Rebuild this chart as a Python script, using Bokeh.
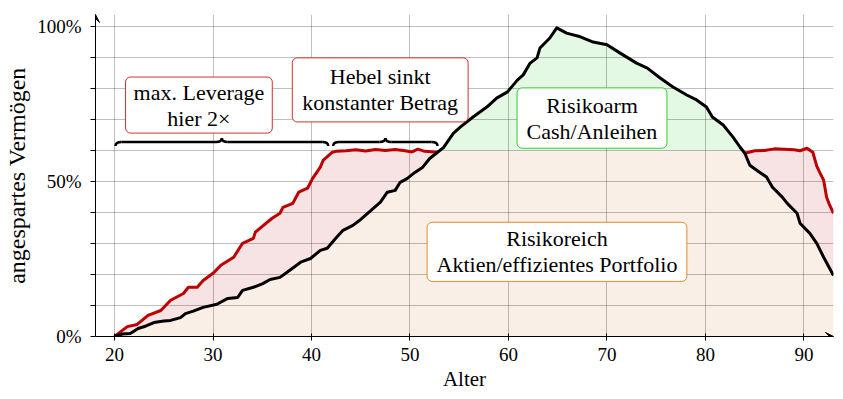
import numpy as np
from bokeh.plotting import figure
from bokeh.models import Range1d, FixedTicker, BoxAnnotation, Label, Arrow, VeeHead
from bokeh.embed import file_html
from bokeh.resources import INLINE

# ---- data ----
black_age = [20.0, 20.8, 21.6, 22.4, 23.2, 24.0, 25.0, 25.7, 26.7, 27.2, 28.0, 29.0, 30.4, 31.5,
             32.5, 33.0, 34.1, 35.0, 35.8, 36.8, 37.8, 38.9, 39.9, 40.9, 41.6, 42.4, 43.2, 44.2,
             45.0, 45.7, 47.0, 47.7, 48.5, 49.0, 49.7, 50.5, 51.3, 52.0, 52.8, 53.4, 54.4, 55.1,
             56.4, 57.8, 58.8, 59.9, 60.9, 61.5, 62.2, 62.9, 63.2, 63.7, 64.2, 64.9, 65.9, 67.3,
             68.6, 70.0, 71.3, 73.0, 74.1, 75.4, 76.7, 78.1, 79.1, 80.1, 80.7, 81.8, 82.8, 83.5,
             84.0, 84.5, 85.2, 86.2, 86.8, 87.8, 88.3, 89.3, 89.6, 90.6, 91.3, 92.0, 93.0]
black_val = [0.0, 0.8, 1.0, 2.6, 3.4, 4.5, 5.0, 5.2, 6.1, 7.4, 8.2, 9.4, 10.4, 12.3,
             12.6, 14.9, 15.9, 17.0, 18.4, 19.1, 21.4, 24.0, 25.2, 27.8, 28.5, 31.5, 34.3, 35.9,
             37.8, 39.8, 43.4, 46.6, 47.2, 49.8, 51.0, 53.0, 54.7, 57.5, 59.5, 61.0, 65.6, 67.6,
             70.9, 74.1, 77.0, 79.0, 82.8, 84.5, 88.3, 90.0, 93.2, 94.8, 96.4, 99.7, 98.0, 96.8,
             95.1, 94.2, 91.6, 88.3, 86.7, 83.5, 80.6, 78.0, 76.4, 74.1, 70.9, 68.3, 64.4, 61.2,
             59.2, 55.3, 53.7, 51.5, 48.2, 45.0, 43.0, 39.8, 36.6, 33.3, 30.1, 25.6, 19.7]

red1_age = [20.0, 20.6, 21.3, 22.3, 23.4, 24.7, 25.7, 27.0, 27.5, 28.4, 29.0, 30.0, 30.8, 32.1,
            33.0, 34.1, 34.3, 36.0, 36.8, 37.1, 38.1, 38.7, 39.6, 40.1, 40.9, 41.2, 42.1, 42.5,
            43.5, 44.5, 45.5, 46.5, 47.5, 48.5, 49.5, 50.2, 50.8, 51.5, 52.8]
red1_val = [0.0, 1.5, 3.2, 3.9, 6.8, 8.4, 11.7, 13.9, 15.9, 15.9, 18.1, 20.4, 23.0, 25.6,
            30.1, 31.7, 33.7, 38.2, 39.8, 41.7, 43.0, 46.6, 47.9, 51.0, 54.7, 57.0, 59.5, 59.8,
            60.0, 60.3, 59.9, 60.4, 60.1, 60.4, 60.0, 59.6, 60.5, 59.8, 59.5]
red2_age = [84.0, 85.0, 86.0, 87.0, 88.0, 89.0, 89.6, 90.3, 90.9, 91.3, 91.6, 92.0, 92.3, 92.6, 93.0]
red2_val = [59.2, 60.0, 60.1, 60.6, 60.5, 60.3, 60.0, 60.8, 59.5, 55.0, 53.0, 50.5, 45.0, 42.5, 39.8]

risk_level = 60.0
x_ticks = [20, 30, 40, 50, 60, 70, 80, 90]
y_ticks = [0, 10, 20, 30, 40, 50, 60, 70, 80, 90, 100]
y_labels = {0: "0%", 50: "50%", 100: "100%"}

brace_start = [20.1, 42.2]
brace_end = [41.7, 52.8]

FONT = "Liberation Serif"
X0, X1, Y0, Y1 = 18.07, 93.0, 0.0, 104.0
FW, FH = 738, 322
PXY = FH / (Y1 - Y0)   # pixels per percent


def insert_crossings(x, y, lvl):
    ox, oy = [x[0]], [y[0]]
    for i in range(1, len(x)):
        if (y[i - 1] - lvl) * (y[i] - lvl) < 0:
            t = (lvl - y[i - 1]) / (y[i] - y[i - 1])
            ox.append(x[i - 1] + t * (x[i] - x[i - 1]))
            oy.append(lvl)
        ox.append(x[i])
        oy.append(y[i])
    return np.array(ox), np.array(oy)


p = figure(frame_width=FW, frame_height=FH, x_range=Range1d(X0, X1), y_range=Range1d(Y0, Y1),
           output_backend="svg", toolbar_location=None,
           min_border_left=95, min_border_right=10, min_border_top=14, min_border_bottom=63)
p.outline_line_color = None
p.background_fill_color = "white"
p.border_fill_color = "white"

# fills
bx, by = insert_crossings(black_age, black_val, risk_level)
fills = [p.varea(x=bx, y1=0, y2=np.minimum(by, risk_level), fill_color="#f9efe6"),
         p.varea(x=bx, y1=risk_level, y2=np.maximum(by, risk_level), fill_color="#e3f9e3")]
for ra, rv in ((red1_age, red1_val), (red2_age, red2_val)):
    xs = np.array(sorted(set(ra) | {a for a in black_age if ra[0] <= a <= ra[-1]}))
    rb = np.interp(xs, black_age, black_val)
    rr = np.interp(xs, ra, rv)
    fills.append(p.varea(x=xs, y1=rb, y2=np.maximum(rr, rb), fill_color="#f7e3e3"))
for f in fills:
    f.level = "image"

# grid
for g in (p.xgrid, p.ygrid):
    g.grid_line_color = "black"
    g.grid_line_alpha = 0.25
    g.grid_line_width = 1
p.xgrid.ticker = FixedTicker(ticks=x_ticks)
p.ygrid.ticker = FixedTicker(ticks=y_ticks)

# lines
p.line(red1_age, red1_val, line_color="#bf0000", line_width=3, line_join="round")
p.line(red2_age, red2_val, line_color="#bf0000", line_width=3, line_join="round")
p.line(black_age, black_val, line_color="black", line_width=3, line_join="round")

# axes
p.xaxis.ticker = FixedTicker(ticks=x_ticks)
p.yaxis.ticker = FixedTicker(ticks=y_ticks)
p.yaxis.major_label_overrides = {t: y_labels.get(t, "") for t in y_ticks}
p.xaxis.axis_label = "Alter"
p.yaxis.axis_label = "angespartes Vermögen"
for ax in (p.xaxis[0], p.yaxis[0]):
    ax.axis_line_color = "black"
    ax.major_tick_line_color = "black"
    ax.minor_tick_line_color = None
    ax.major_label_text_font = FONT
    ax.major_label_text_font_size = "19px"
    ax.major_label_text_color = "black"
    ax.axis_label_text_font = FONT
    ax.axis_label_text_font_size = "21px"
    ax.axis_label_text_font_style = "normal"
    ax.axis_label_text_color = "black"
p.yaxis.axis_label_text_font_size = "24px"
p.xaxis.major_tick_in = 3
p.xaxis.major_tick_out = 4
p.xaxis.major_label_standoff = 7
p.xaxis.axis_label_standoff = 3
p.yaxis.major_tick_in = 0
p.yaxis.major_tick_out = 5
p.yaxis.major_label_standoff = 9
p.yaxis.axis_label_standoff = 4

p.add_layout(Arrow(end=VeeHead(size=8, fill_color="black", line_color="black", line_width=1),
                   x_start=X1 - 0.7, y_start=0, x_end=X1, y_end=0, line_width=1))
p.add_layout(Arrow(end=VeeHead(size=8, fill_color="black", line_color="black", line_width=1),
                   x_start=X0, y_start=Y1 - 2, x_end=X0, y_end=Y1, line_width=1))

# braces
yb, amp, rx = 62.8, 1.3, 0.6
for b0, b1 in zip(brace_start, brace_end):
    xm = (b0 + b1) / 2
    p.quadratic(x0=[b0, xm - rx, xm, b1 - rx], y0=[yb - amp, yb, yb + amp, yb],
                x1=[b0 + rx, xm, xm + rx, b1], y1=[yb, yb + amp, yb, yb - amp],
                cx=[b0, xm, xm, b1], cy=[yb, yb, yb, yb], line_color="black", line_width=2.5)
    p.segment(x0=[b0 + rx, xm + rx], y0=[yb, yb], x1=[xm - rx, b1 - rx], y1=[yb, yb],
              line_color="black", line_width=2.5)

# annotation boxes
boxes = [
    (21.12, 36.02, 83.8, 65.7, "#d03030", ["max. Leverage", "hier 2×"]),
    (38.05, 55.90, 90.0, 69.3, "#d03030", ["Hebel sinkt", "konstanter Betrag"]),
    (60.87, 76.09, 80.3, 60.8, "#33cc33", ["Risikoarm", "Cash/Anleihen"]),
    (51.74, 78.11, 36.9, 17.8, "#e08a2e", ["Risikoreich", "Aktien/effizientes Portfolio"]),
]
half = 13 / PXY
for l, r, t, b, col, lines in boxes:
    p.add_layout(BoxAnnotation(left=l, right=r, top=t, bottom=b, fill_color="white", fill_alpha=1,
                               line_color=col, line_width=1, line_alpha=1, border_radius=5,
                               level="annotation"))
    cy = (t + b) / 2
    for txt, yy in zip(lines, (cy + half, cy - half)):
        p.add_layout(Label(x=(l + r) / 2, y=yy, text=txt, text_align="center",
                           text_baseline="middle", text_font=FONT, text_font_size="22px",
                           text_color="black"))

open("out.html", "w").write(file_html(p, INLINE))
